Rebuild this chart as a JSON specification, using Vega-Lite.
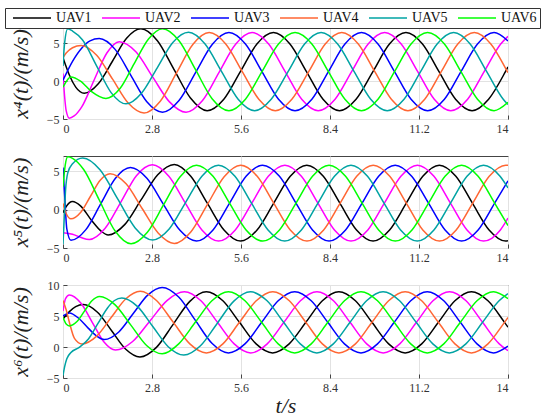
{
  "$schema": "https://vega.github.io/schema/vega-lite/v6.json",
  "description": "x4, x5, x6 states of six UAVs over time",
  "background": "white",
  "padding": {"left": 4, "top": 7, "right": 0, "bottom": 0},
  "datasets": {
    "a": [
      {"s":"UAV1","t":0,"v":3.1},{"s":"UAV1","t":0.1,"v":1.9},{"s":"UAV1","t":0.2,"v":0.8},{"s":"UAV1","t":0.4,"v":-0.8},{"s":"UAV1","t":0.67,"v":-1.6},{"s":"UAV1","t":1.11,"v":-0.35},{"s":"UAV1","t":1.56,"v":2.65},{"s":"UAV1","t":2.0,"v":5.65},{"s":"UAV1","t":2.45,"v":6.9},{"s":"UAV1","t":2.97,"v":5.33},{"s":"UAV1","t":3.49,"v":1.55},{"s":"UAV1","t":4.01,"v":-2.23},{"s":"UAV1","t":4.535,"v":-3.9},{"s":"UAV1","t":5.06,"v":-2.39},{"s":"UAV1","t":5.58,"v":1.25},{"s":"UAV1","t":6.1,"v":4.89},{"s":"UAV1","t":6.62,"v":6.4},{"s":"UAV1","t":7.14,"v":4.89},{"s":"UAV1","t":7.66,"v":1.25},{"s":"UAV1","t":8.18,"v":-2.39},{"s":"UAV1","t":8.7,"v":-3.9},{"s":"UAV1","t":9.22,"v":-2.39},{"s":"UAV1","t":9.75,"v":1.25},{"s":"UAV1","t":10.27,"v":4.89},{"s":"UAV1","t":10.79,"v":6.4},{"s":"UAV1","t":11.31,"v":4.89},{"s":"UAV1","t":11.83,"v":1.25},{"s":"UAV1","t":12.35,"v":-2.39},{"s":"UAV1","t":12.87,"v":-3.9},{"s":"UAV1","t":13.39,"v":-2.39},{"s":"UAV1","t":13.92,"v":1.25},{"s":"UAV1","t":14,"v":1.87},
      {"s":"UAV2","t":0,"v":1.0},{"s":"UAV2","t":0.05,"v":-2.0},{"s":"UAV2","t":0.1,"v":-3.9},{"s":"UAV2","t":0.2,"v":-4.9},{"s":"UAV2","t":0.35,"v":-4.6},{"s":"UAV2","t":0.59,"v":-3.4},{"s":"UAV2","t":0.98,"v":0.15},{"s":"UAV2","t":1.38,"v":3.7},{"s":"UAV2","t":1.77,"v":5.2},{"s":"UAV2","t":2.3,"v":3.84},{"s":"UAV2","t":2.82,"v":0.55},{"s":"UAV2","t":3.35,"v":-2.74},{"s":"UAV2","t":3.87,"v":-4.1},{"s":"UAV2","t":4.39,"v":-2.56},{"s":"UAV2","t":4.91,"v":1.15},{"s":"UAV2","t":5.43,"v":4.86},{"s":"UAV2","t":5.95,"v":6.4},{"s":"UAV2","t":6.47,"v":4.89},{"s":"UAV2","t":6.99,"v":1.25},{"s":"UAV2","t":7.51,"v":-2.39},{"s":"UAV2","t":8.03,"v":-3.9},{"s":"UAV2","t":8.56,"v":-2.39},{"s":"UAV2","t":9.08,"v":1.25},{"s":"UAV2","t":9.6,"v":4.89},{"s":"UAV2","t":10.12,"v":6.4},{"s":"UAV2","t":10.64,"v":4.89},{"s":"UAV2","t":11.16,"v":1.25},{"s":"UAV2","t":11.68,"v":-2.39},{"s":"UAV2","t":12.2,"v":-3.9},{"s":"UAV2","t":12.73,"v":-2.39},{"s":"UAV2","t":13.25,"v":1.25},{"s":"UAV2","t":13.77,"v":4.89},{"s":"UAV2","t":14,"v":5.9},
      {"s":"UAV3","t":0,"v":0.1},{"s":"UAV3","t":0.3,"v":2.6},{"s":"UAV3","t":0.6,"v":4.4},{"s":"UAV3","t":0.85,"v":5.3},{"s":"UAV3","t":1.14,"v":5.6},{"s":"UAV3","t":1.64,"v":4.18},{"s":"UAV3","t":2.135,"v":0.75},{"s":"UAV3","t":2.63,"v":-2.68},{"s":"UAV3","t":3.13,"v":-4.1},{"s":"UAV3","t":3.65,"v":-2.56},{"s":"UAV3","t":4.175,"v":1.15},{"s":"UAV3","t":4.7,"v":4.86},{"s":"UAV3","t":5.22,"v":6.4},{"s":"UAV3","t":5.74,"v":4.89},{"s":"UAV3","t":6.26,"v":1.25},{"s":"UAV3","t":6.78,"v":-2.39},{"s":"UAV3","t":7.3,"v":-3.9},{"s":"UAV3","t":7.83,"v":-2.39},{"s":"UAV3","t":8.35,"v":1.25},{"s":"UAV3","t":8.87,"v":4.89},{"s":"UAV3","t":9.39,"v":6.4},{"s":"UAV3","t":9.91,"v":4.89},{"s":"UAV3","t":10.43,"v":1.25},{"s":"UAV3","t":10.95,"v":-2.39},{"s":"UAV3","t":11.47,"v":-3.9},{"s":"UAV3","t":12.0,"v":-2.39},{"s":"UAV3","t":12.52,"v":1.25},{"s":"UAV3","t":13.04,"v":4.89},{"s":"UAV3","t":13.56,"v":6.4},{"s":"UAV3","t":14,"v":5.3},
      {"s":"UAV4","t":0,"v":3.1},{"s":"UAV4","t":0.1,"v":3.7},{"s":"UAV4","t":0.3,"v":4.4},{"s":"UAV4","t":0.57,"v":4.7},{"s":"UAV4","t":1.06,"v":3.4},{"s":"UAV4","t":1.56,"v":0.25},{"s":"UAV4","t":2.05,"v":-2.9},{"s":"UAV4","t":2.55,"v":-4.2},{"s":"UAV4","t":3.06,"v":-2.65},{"s":"UAV4","t":3.575,"v":1.1},{"s":"UAV4","t":4.09,"v":4.85},{"s":"UAV4","t":4.6,"v":6.4},{"s":"UAV4","t":5.12,"v":4.89},{"s":"UAV4","t":5.64,"v":1.25},{"s":"UAV4","t":6.16,"v":-2.39},{"s":"UAV4","t":6.68,"v":-3.9},{"s":"UAV4","t":7.2,"v":-2.39},{"s":"UAV4","t":7.73,"v":1.25},{"s":"UAV4","t":8.25,"v":4.89},{"s":"UAV4","t":8.77,"v":6.4},{"s":"UAV4","t":9.29,"v":4.89},{"s":"UAV4","t":9.81,"v":1.25},{"s":"UAV4","t":10.33,"v":-2.39},{"s":"UAV4","t":10.85,"v":-3.9},{"s":"UAV4","t":11.38,"v":-2.39},{"s":"UAV4","t":11.9,"v":1.25},{"s":"UAV4","t":12.42,"v":4.89},{"s":"UAV4","t":12.94,"v":6.4},{"s":"UAV4","t":13.46,"v":4.89},{"s":"UAV4","t":13.98,"v":1.25},{"s":"UAV4","t":14,"v":1.1},
      {"s":"UAV5","t":0,"v":2.0},{"s":"UAV5","t":0.05,"v":5.0},{"s":"UAV5","t":0.15,"v":6.9},{"s":"UAV5","t":0.3,"v":6.6},{"s":"UAV5","t":0.61,"v":5.45},{"s":"UAV5","t":1.065,"v":1.95},{"s":"UAV5","t":1.52,"v":-1.55},{"s":"UAV5","t":1.98,"v":-3.0},{"s":"UAV5","t":2.47,"v":-1.6},{"s":"UAV5","t":2.965,"v":1.75},{"s":"UAV5","t":3.455,"v":5.1},{"s":"UAV5","t":3.95,"v":6.45},{"s":"UAV5","t":4.47,"v":4.89},{"s":"UAV5","t":4.99,"v":1.25},{"s":"UAV5","t":5.51,"v":-2.39},{"s":"UAV5","t":6.03,"v":-3.9},{"s":"UAV5","t":6.55,"v":-2.39},{"s":"UAV5","t":7.08,"v":1.25},{"s":"UAV5","t":7.6,"v":4.89},{"s":"UAV5","t":8.12,"v":6.4},{"s":"UAV5","t":8.64,"v":4.89},{"s":"UAV5","t":9.16,"v":1.25},{"s":"UAV5","t":9.68,"v":-2.39},{"s":"UAV5","t":10.2,"v":-3.9},{"s":"UAV5","t":10.73,"v":-2.39},{"s":"UAV5","t":11.25,"v":1.25},{"s":"UAV5","t":11.77,"v":4.89},{"s":"UAV5","t":12.29,"v":6.4},{"s":"UAV5","t":12.81,"v":4.89},{"s":"UAV5","t":13.33,"v":1.25},{"s":"UAV5","t":13.85,"v":-2.39},{"s":"UAV5","t":14,"v":-3.1},
      {"s":"UAV6","t":0,"v":-0.8},{"s":"UAV6","t":0.25,"v":0.55},{"s":"UAV6","t":0.55,"v":0.0},{"s":"UAV6","t":0.9,"v":-1.4},{"s":"UAV6","t":1.35,"v":-2.3},{"s":"UAV6","t":1.8,"v":-0.95},{"s":"UAV6","t":2.24,"v":2.3},{"s":"UAV6","t":2.69,"v":5.55},{"s":"UAV6","t":3.13,"v":6.9},{"s":"UAV6","t":3.65,"v":5.32},{"s":"UAV6","t":4.17,"v":1.5},{"s":"UAV6","t":4.69,"v":-2.32},{"s":"UAV6","t":5.22,"v":-3.9},{"s":"UAV6","t":5.74,"v":-2.39},{"s":"UAV6","t":6.26,"v":1.25},{"s":"UAV6","t":6.78,"v":4.89},{"s":"UAV6","t":7.3,"v":6.4},{"s":"UAV6","t":7.83,"v":4.89},{"s":"UAV6","t":8.35,"v":1.25},{"s":"UAV6","t":8.87,"v":-2.39},{"s":"UAV6","t":9.39,"v":-3.9},{"s":"UAV6","t":9.91,"v":-2.39},{"s":"UAV6","t":10.43,"v":1.25},{"s":"UAV6","t":10.95,"v":4.89},{"s":"UAV6","t":11.47,"v":6.4},{"s":"UAV6","t":12.0,"v":4.89},{"s":"UAV6","t":12.52,"v":1.25},{"s":"UAV6","t":13.04,"v":-2.39},{"s":"UAV6","t":13.56,"v":-3.9},{"s":"UAV6","t":14,"v":-2.8}
    ],
    "b": [
      {"s":"UAV1","t":0,"v":-0.4},{"s":"UAV1","t":0.1,"v":0.4},{"s":"UAV1","t":0.3,"v":1.07},{"s":"UAV1","t":0.55,"v":0.5},{"s":"UAV1","t":0.9,"v":-1.4},{"s":"UAV1","t":1.2,"v":-2.8},{"s":"UAV1","t":1.42,"v":-3.3},{"s":"UAV1","t":1.94,"v":-1.95},{"s":"UAV1","t":2.46,"v":1.3},{"s":"UAV1","t":2.98,"v":4.55},{"s":"UAV1","t":3.5,"v":5.9},{"s":"UAV1","t":4.02,"v":4.35},{"s":"UAV1","t":4.54,"v":0.85},{"s":"UAV1","t":5.065,"v":-2.65},{"s":"UAV1","t":5.585,"v":-4.1},{"s":"UAV1","t":6.105,"v":-2.65},{"s":"UAV1","t":6.63,"v":0.85},{"s":"UAV1","t":7.15,"v":4.35},{"s":"UAV1","t":7.67,"v":5.8},{"s":"UAV1","t":8.19,"v":4.35},{"s":"UAV1","t":8.71,"v":0.85},{"s":"UAV1","t":9.235,"v":-2.65},{"s":"UAV1","t":9.755,"v":-4.1},{"s":"UAV1","t":10.275,"v":-2.65},{"s":"UAV1","t":10.8,"v":0.85},{"s":"UAV1","t":11.32,"v":4.35},{"s":"UAV1","t":11.84,"v":5.8},{"s":"UAV1","t":12.36,"v":4.35},{"s":"UAV1","t":12.88,"v":0.85},{"s":"UAV1","t":13.405,"v":-2.65},{"s":"UAV1","t":13.925,"v":-4.1},{"s":"UAV1","t":14,"v":-4.05},
      {"s":"UAV2","t":0,"v":-3.0},{"s":"UAV2","t":0.3,"v":-3.2},{"s":"UAV2","t":0.55,"v":-3.6},{"s":"UAV2","t":0.83,"v":-3.9},{"s":"UAV2","t":1.32,"v":-2.47},{"s":"UAV2","t":1.82,"v":0.98},{"s":"UAV2","t":2.31,"v":4.43},{"s":"UAV2","t":2.81,"v":5.85},{"s":"UAV2","t":3.33,"v":4.35},{"s":"UAV2","t":3.85,"v":0.85},{"s":"UAV2","t":4.37,"v":-2.65},{"s":"UAV2","t":4.895,"v":-4.1},{"s":"UAV2","t":5.42,"v":-2.65},{"s":"UAV2","t":5.94,"v":0.85},{"s":"UAV2","t":6.46,"v":4.35},{"s":"UAV2","t":6.98,"v":5.8},{"s":"UAV2","t":7.5,"v":4.35},{"s":"UAV2","t":8.02,"v":0.85},{"s":"UAV2","t":8.54,"v":-2.65},{"s":"UAV2","t":9.06,"v":-4.1},{"s":"UAV2","t":9.59,"v":-2.65},{"s":"UAV2","t":10.11,"v":0.85},{"s":"UAV2","t":10.63,"v":4.35},{"s":"UAV2","t":11.15,"v":5.8},{"s":"UAV2","t":11.67,"v":4.35},{"s":"UAV2","t":12.19,"v":0.85},{"s":"UAV2","t":12.71,"v":-2.65},{"s":"UAV2","t":13.23,"v":-4.1},{"s":"UAV2","t":13.76,"v":-2.65},{"s":"UAV2","t":14,"v":-1.1},
      {"s":"UAV3","t":0,"v":5.5},{"s":"UAV3","t":0.05,"v":2.0},{"s":"UAV3","t":0.12,"v":-2.5},{"s":"UAV3","t":0.25,"v":-4.0},{"s":"UAV3","t":0.72,"v":-2.6},{"s":"UAV3","t":1.185,"v":0.75},{"s":"UAV3","t":1.65,"v":4.1},{"s":"UAV3","t":2.12,"v":5.5},{"s":"UAV3","t":2.64,"v":4.1},{"s":"UAV3","t":3.16,"v":0.7},{"s":"UAV3","t":3.68,"v":-2.7},{"s":"UAV3","t":4.2,"v":-4.1},{"s":"UAV3","t":4.72,"v":-2.65},{"s":"UAV3","t":5.24,"v":0.85},{"s":"UAV3","t":5.76,"v":4.35},{"s":"UAV3","t":6.28,"v":5.8},{"s":"UAV3","t":6.81,"v":4.35},{"s":"UAV3","t":7.33,"v":0.85},{"s":"UAV3","t":7.85,"v":-2.65},{"s":"UAV3","t":8.37,"v":-4.1},{"s":"UAV3","t":8.89,"v":-2.65},{"s":"UAV3","t":9.41,"v":0.85},{"s":"UAV3","t":9.93,"v":4.35},{"s":"UAV3","t":10.45,"v":5.8},{"s":"UAV3","t":10.97,"v":4.35},{"s":"UAV3","t":11.5,"v":0.85},{"s":"UAV3","t":12.02,"v":-2.65},{"s":"UAV3","t":12.54,"v":-4.1},{"s":"UAV3","t":13.06,"v":-2.65},{"s":"UAV3","t":13.58,"v":0.85},{"s":"UAV3","t":14,"v":3.77},
      {"s":"UAV4","t":0,"v":0.8},{"s":"UAV4","t":0.1,"v":-0.5},{"s":"UAV4","t":0.25,"v":-1.2},{"s":"UAV4","t":0.56,"v":-0.34},{"s":"UAV4","t":0.865,"v":1.75},{"s":"UAV4","t":1.17,"v":3.84},{"s":"UAV4","t":1.48,"v":4.7},{"s":"UAV4","t":1.985,"v":3.37},{"s":"UAV4","t":2.49,"v":0.15},{"s":"UAV4","t":3.0,"v":-3.07},{"s":"UAV4","t":3.5,"v":-4.4},{"s":"UAV4","t":4.02,"v":-2.9},{"s":"UAV4","t":4.545,"v":0.7},{"s":"UAV4","t":5.07,"v":4.3},{"s":"UAV4","t":5.59,"v":5.8},{"s":"UAV4","t":6.11,"v":4.35},{"s":"UAV4","t":6.63,"v":0.85},{"s":"UAV4","t":7.15,"v":-2.65},{"s":"UAV4","t":7.675,"v":-4.1},{"s":"UAV4","t":8.2,"v":-2.65},{"s":"UAV4","t":8.72,"v":0.85},{"s":"UAV4","t":9.24,"v":4.35},{"s":"UAV4","t":9.76,"v":5.8},{"s":"UAV4","t":10.28,"v":4.35},{"s":"UAV4","t":10.8,"v":0.85},{"s":"UAV4","t":11.32,"v":-2.65},{"s":"UAV4","t":11.845,"v":-4.1},{"s":"UAV4","t":12.37,"v":-2.65},{"s":"UAV4","t":12.89,"v":0.85},{"s":"UAV4","t":13.41,"v":4.35},{"s":"UAV4","t":13.93,"v":5.8},{"s":"UAV4","t":14,"v":5.78},
      {"s":"UAV5","t":0,"v":-4.5},{"s":"UAV5","t":0.04,"v":-1.0},{"s":"UAV5","t":0.08,"v":2.5},{"s":"UAV5","t":0.15,"v":4.8},{"s":"UAV5","t":0.3,"v":6.0},{"s":"UAV5","t":0.62,"v":6.75},{"s":"UAV5","t":1.17,"v":5.18},{"s":"UAV5","t":1.72,"v":1.4},{"s":"UAV5","t":2.27,"v":-2.38},{"s":"UAV5","t":2.82,"v":-3.95},{"s":"UAV5","t":3.34,"v":-2.52},{"s":"UAV5","t":3.855,"v":0.925},{"s":"UAV5","t":4.37,"v":4.37},{"s":"UAV5","t":4.89,"v":5.8},{"s":"UAV5","t":5.41,"v":4.35},{"s":"UAV5","t":5.93,"v":0.85},{"s":"UAV5","t":6.45,"v":-2.65},{"s":"UAV5","t":6.975,"v":-4.1},{"s":"UAV5","t":7.5,"v":-2.65},{"s":"UAV5","t":8.02,"v":0.85},{"s":"UAV5","t":8.54,"v":4.35},{"s":"UAV5","t":9.06,"v":5.8},{"s":"UAV5","t":9.58,"v":4.35},{"s":"UAV5","t":10.1,"v":0.85},{"s":"UAV5","t":10.62,"v":-2.65},{"s":"UAV5","t":11.145,"v":-4.1},{"s":"UAV5","t":11.67,"v":-2.65},{"s":"UAV5","t":12.19,"v":0.85},{"s":"UAV5","t":12.71,"v":4.35},{"s":"UAV5","t":13.23,"v":5.8},{"s":"UAV5","t":13.75,"v":4.35},{"s":"UAV5","t":14,"v":2.83},
      {"s":"UAV6","t":0,"v":3.0},{"s":"UAV6","t":0.07,"v":5.8},{"s":"UAV6","t":0.15,"v":6.9},{"s":"UAV6","t":0.3,"v":6.7},{"s":"UAV6","t":0.65,"v":5.24},{"s":"UAV6","t":1.145,"v":1.225},{"s":"UAV6","t":1.64,"v":-2.79},{"s":"UAV6","t":2.14,"v":-4.45},{"s":"UAV6","t":2.655,"v":-2.95},{"s":"UAV6","t":3.17,"v":0.675},{"s":"UAV6","t":3.685,"v":4.3},{"s":"UAV6","t":4.2,"v":5.8},{"s":"UAV6","t":4.72,"v":4.35},{"s":"UAV6","t":5.24,"v":0.85},{"s":"UAV6","t":5.76,"v":-2.65},{"s":"UAV6","t":6.285,"v":-4.1},{"s":"UAV6","t":6.81,"v":-2.65},{"s":"UAV6","t":7.33,"v":0.85},{"s":"UAV6","t":7.85,"v":4.35},{"s":"UAV6","t":8.37,"v":5.8},{"s":"UAV6","t":8.89,"v":4.35},{"s":"UAV6","t":9.41,"v":0.85},{"s":"UAV6","t":9.93,"v":-2.65},{"s":"UAV6","t":10.455,"v":-4.1},{"s":"UAV6","t":10.98,"v":-2.65},{"s":"UAV6","t":11.5,"v":0.85},{"s":"UAV6","t":12.02,"v":4.35},{"s":"UAV6","t":12.54,"v":5.8},{"s":"UAV6","t":13.06,"v":4.35},{"s":"UAV6","t":13.58,"v":0.85},{"s":"UAV6","t":14,"v":-2.07}
    ],
    "c": [
      {"s":"UAV1","t":0,"v":4.5},{"s":"UAV1","t":0.2,"v":5.7},{"s":"UAV1","t":0.4,"v":6.5},{"s":"UAV1","t":0.64,"v":6.85},{"s":"UAV1","t":1.085,"v":5.61},{"s":"UAV1","t":1.53,"v":2.63},{"s":"UAV1","t":1.975,"v":-0.36},{"s":"UAV1","t":2.42,"v":-1.6},{"s":"UAV1","t":2.94,"v":-0.06},{"s":"UAV1","t":3.465,"v":3.65},{"s":"UAV1","t":3.99,"v":7.36},{"s":"UAV1","t":4.51,"v":8.9},{"s":"UAV1","t":5.03,"v":7.45},{"s":"UAV1","t":5.55,"v":3.98},{"s":"UAV1","t":6.075,"v":0.5},{"s":"UAV1","t":6.595,"v":-0.95},{"s":"UAV1","t":7.115,"v":0.5},{"s":"UAV1","t":7.64,"v":3.98},{"s":"UAV1","t":8.16,"v":7.45},{"s":"UAV1","t":8.68,"v":8.9},{"s":"UAV1","t":9.2,"v":7.45},{"s":"UAV1","t":9.72,"v":3.98},{"s":"UAV1","t":10.245,"v":0.5},{"s":"UAV1","t":10.765,"v":-0.95},{"s":"UAV1","t":11.285,"v":0.5},{"s":"UAV1","t":11.81,"v":3.98},{"s":"UAV1","t":12.33,"v":7.45},{"s":"UAV1","t":12.85,"v":8.9},{"s":"UAV1","t":13.37,"v":7.45},{"s":"UAV1","t":13.89,"v":3.98},{"s":"UAV1","t":14,"v":3.2},
      {"s":"UAV2","t":0,"v":5.8},{"s":"UAV2","t":0.08,"v":7.8},{"s":"UAV2","t":0.2,"v":8.4},{"s":"UAV2","t":0.56,"v":7.1},{"s":"UAV2","t":0.925,"v":3.95},{"s":"UAV2","t":1.29,"v":0.8},{"s":"UAV2","t":1.65,"v":-0.5},{"s":"UAV2","t":2.19,"v":0.88},{"s":"UAV2","t":2.735,"v":4.2},{"s":"UAV2","t":3.28,"v":7.52},{"s":"UAV2","t":3.82,"v":8.9},{"s":"UAV2","t":4.34,"v":7.45},{"s":"UAV2","t":4.86,"v":3.98},{"s":"UAV2","t":5.385,"v":0.5},{"s":"UAV2","t":5.905,"v":-0.95},{"s":"UAV2","t":6.425,"v":0.5},{"s":"UAV2","t":6.95,"v":3.98},{"s":"UAV2","t":7.47,"v":7.45},{"s":"UAV2","t":7.99,"v":8.9},{"s":"UAV2","t":8.51,"v":7.45},{"s":"UAV2","t":9.03,"v":3.98},{"s":"UAV2","t":9.555,"v":0.5},{"s":"UAV2","t":10.075,"v":-0.95},{"s":"UAV2","t":10.595,"v":0.5},{"s":"UAV2","t":11.12,"v":3.98},{"s":"UAV2","t":11.64,"v":7.45},{"s":"UAV2","t":12.16,"v":8.9},{"s":"UAV2","t":12.68,"v":7.45},{"s":"UAV2","t":13.2,"v":3.98},{"s":"UAV2","t":13.725,"v":0.5},{"s":"UAV2","t":14,"v":-0.6},
      {"s":"UAV3","t":0,"v":5.0},{"s":"UAV3","t":0.2,"v":5.5},{"s":"UAV3","t":0.5,"v":4.6},{"s":"UAV3","t":0.8,"v":3.0},{"s":"UAV3","t":1.05,"v":1.8},{"s":"UAV3","t":1.3,"v":1.2},{"s":"UAV3","t":1.755,"v":2.43},{"s":"UAV3","t":2.21,"v":5.4},{"s":"UAV3","t":2.665,"v":8.37},{"s":"UAV3","t":3.12,"v":9.6},{"s":"UAV3","t":3.64,"v":8.05},{"s":"UAV3","t":4.16,"v":4.33},{"s":"UAV3","t":4.685,"v":0.6},{"s":"UAV3","t":5.205,"v":-0.95},{"s":"UAV3","t":5.725,"v":0.5},{"s":"UAV3","t":6.25,"v":3.98},{"s":"UAV3","t":6.77,"v":7.45},{"s":"UAV3","t":7.29,"v":8.9},{"s":"UAV3","t":7.81,"v":7.45},{"s":"UAV3","t":8.33,"v":3.98},{"s":"UAV3","t":8.855,"v":0.5},{"s":"UAV3","t":9.375,"v":-0.95},{"s":"UAV3","t":9.895,"v":0.5},{"s":"UAV3","t":10.42,"v":3.98},{"s":"UAV3","t":10.94,"v":7.45},{"s":"UAV3","t":11.46,"v":8.9},{"s":"UAV3","t":11.98,"v":7.45},{"s":"UAV3","t":12.5,"v":3.98},{"s":"UAV3","t":13.025,"v":0.5},{"s":"UAV3","t":13.545,"v":-0.95},{"s":"UAV3","t":14,"v":0.13},
      {"s":"UAV4","t":0,"v":7.5},{"s":"UAV4","t":0.1,"v":6.0},{"s":"UAV4","t":0.2,"v":4.0},{"s":"UAV4","t":0.36,"v":1.4},{"s":"UAV4","t":0.6,"v":0.5},{"s":"UAV4","t":1.06,"v":1.75},{"s":"UAV4","t":1.515,"v":4.75},{"s":"UAV4","t":1.97,"v":7.75},{"s":"UAV4","t":2.43,"v":9.0},{"s":"UAV4","t":2.95,"v":7.45},{"s":"UAV4","t":3.47,"v":3.98},{"s":"UAV4","t":3.99,"v":0.5},{"s":"UAV4","t":4.51,"v":-0.95},{"s":"UAV4","t":5.03,"v":0.5},{"s":"UAV4","t":5.55,"v":3.98},{"s":"UAV4","t":6.08,"v":7.45},{"s":"UAV4","t":6.6,"v":8.9},{"s":"UAV4","t":7.12,"v":7.45},{"s":"UAV4","t":7.64,"v":3.98},{"s":"UAV4","t":8.16,"v":0.5},{"s":"UAV4","t":8.68,"v":-0.95},{"s":"UAV4","t":9.2,"v":0.5},{"s":"UAV4","t":9.72,"v":3.98},{"s":"UAV4","t":10.245,"v":7.45},{"s":"UAV4","t":10.765,"v":8.9},{"s":"UAV4","t":11.285,"v":7.45},{"s":"UAV4","t":11.81,"v":3.98},{"s":"UAV4","t":12.33,"v":0.5},{"s":"UAV4","t":12.85,"v":-0.95},{"s":"UAV4","t":13.37,"v":0.5},{"s":"UAV4","t":13.89,"v":3.98},{"s":"UAV4","t":14,"v":4.75},
      {"s":"UAV5","t":0,"v":-4.6},{"s":"UAV5","t":0.05,"v":-3.2},{"s":"UAV5","t":0.12,"v":-1.9},{"s":"UAV5","t":0.25,"v":-0.9},{"s":"UAV5","t":0.5,"v":-0.1},{"s":"UAV5","t":0.8,"v":1.3},{"s":"UAV5","t":1.1,"v":3.8},{"s":"UAV5","t":1.4,"v":6.3},{"s":"UAV5","t":1.62,"v":7.5},{"s":"UAV5","t":1.85,"v":7.9},{"s":"UAV5","t":2.34,"v":6.55},{"s":"UAV5","t":2.825,"v":3.3},{"s":"UAV5","t":3.31,"v":0.05},{"s":"UAV5","t":3.8,"v":-1.3},{"s":"UAV5","t":4.325,"v":0.2},{"s":"UAV5","t":4.85,"v":3.8},{"s":"UAV5","t":5.375,"v":7.4},{"s":"UAV5","t":5.9,"v":8.9},{"s":"UAV5","t":6.42,"v":7.45},{"s":"UAV5","t":6.94,"v":3.98},{"s":"UAV5","t":7.465,"v":0.5},{"s":"UAV5","t":7.985,"v":-0.95},{"s":"UAV5","t":8.505,"v":0.5},{"s":"UAV5","t":9.03,"v":3.98},{"s":"UAV5","t":9.55,"v":7.45},{"s":"UAV5","t":10.07,"v":8.9},{"s":"UAV5","t":10.59,"v":7.45},{"s":"UAV5","t":11.11,"v":3.98},{"s":"UAV5","t":11.635,"v":0.5},{"s":"UAV5","t":12.155,"v":-0.95},{"s":"UAV5","t":12.675,"v":0.5},{"s":"UAV5","t":13.2,"v":3.98},{"s":"UAV5","t":13.72,"v":7.45},{"s":"UAV5","t":14,"v":8.6},
      {"s":"UAV6","t":0,"v":4.8},{"s":"UAV6","t":0.1,"v":3.7},{"s":"UAV6","t":0.2,"v":3.4},{"s":"UAV6","t":0.44,"v":4.1},{"s":"UAV6","t":0.675,"v":5.78},{"s":"UAV6","t":0.91,"v":7.45},{"s":"UAV6","t":1.15,"v":8.15},{"s":"UAV6","t":1.64,"v":6.8},{"s":"UAV6","t":2.135,"v":3.53},{"s":"UAV6","t":2.63,"v":0.25},{"s":"UAV6","t":3.12,"v":-1.1},{"s":"UAV6","t":3.64,"v":0.5},{"s":"UAV6","t":4.16,"v":3.98},{"s":"UAV6","t":4.685,"v":7.45},{"s":"UAV6","t":5.205,"v":8.9},{"s":"UAV6","t":5.725,"v":7.45},{"s":"UAV6","t":6.25,"v":3.98},{"s":"UAV6","t":6.77,"v":0.5},{"s":"UAV6","t":7.29,"v":-0.95},{"s":"UAV6","t":7.81,"v":0.5},{"s":"UAV6","t":8.33,"v":3.98},{"s":"UAV6","t":8.855,"v":7.45},{"s":"UAV6","t":9.375,"v":8.9},{"s":"UAV6","t":9.895,"v":7.45},{"s":"UAV6","t":10.42,"v":3.98},{"s":"UAV6","t":10.94,"v":0.5},{"s":"UAV6","t":11.46,"v":-0.95},{"s":"UAV6","t":11.98,"v":0.5},{"s":"UAV6","t":12.5,"v":3.98},{"s":"UAV6","t":13.025,"v":7.45},{"s":"UAV6","t":13.545,"v":8.9},{"s":"UAV6","t":14,"v":7.8}
    ]
  },
  "bounds": "flush",
  "spacing": 37,
  "vconcat": [
    {
      "width": 445,
      "height": 91,
      "data": {"name": "a"},
      "mark": {"type": "line", "interpolate": "monotone", "strokeWidth": 1.5, "clip": true},
      "encoding": {
        "x": {"field": "t", "type": "quantitative", "scale": {"domain": [0, 14], "nice": false, "zero": false},
              "axis": {"values": [0, 2.8, 5.6, 8.4, 11.2, 14], "labelExpr": "format(datum.value, '~g')", "title": null}},
        "y": {"field": "v", "type": "quantitative", "scale": {"domain": [-5, 7], "nice": false},
              "axis": {"values": [-5, 0, 5], "title": "x⁴(t)/(m/s)"}},
        "color": {"field": "s", "type": "nominal",
                  "scale": {"domain": ["UAV1", "UAV2", "UAV3", "UAV4", "UAV5", "UAV6"],
                            "range": ["#000000", "#ff00ff", "#0000ff", "#ff6633", "#00a3a3", "#00ff00"]},
                  "legend": {"orient": "none", "legendX": -58, "legendY": -20, "direction": "horizontal", "columns": 6,
                             "title": null, "symbolType": "M-0.4,0H7.2", "symbolSize": 100, "symbolStrokeWidth": 1.5,
                             "labelFont": "Liberation Serif, DejaVu Serif, serif", "labelFontSize": 14, "labelColor": "#111",
                             "labelOffset": 34, "columnPadding": 5, "strokeColor": "#333", "fillColor": "white", "padding": 3}}
      }
    },
    {
      "width": 445,
      "height": 92,
      "data": {"name": "b"},
      "mark": {"type": "line", "interpolate": "monotone", "strokeWidth": 1.5, "clip": true},
      "encoding": {
        "x": {"field": "t", "type": "quantitative", "scale": {"domain": [0, 14], "nice": false, "zero": false},
              "axis": {"values": [0, 2.8, 5.6, 8.4, 11.2, 14], "labelExpr": "format(datum.value, '~g')", "title": null}},
        "y": {"field": "v", "type": "quantitative", "scale": {"domain": [-5, 7], "nice": false},
              "axis": {"values": [-5, 0, 5], "title": "x⁵(t)/(m/s)"}},
        "color": {"field": "s", "type": "nominal"}
      }
    },
    {
      "width": 445,
      "height": 93,
      "data": {"name": "c"},
      "mark": {"type": "line", "interpolate": "monotone", "strokeWidth": 1.5, "clip": true},
      "encoding": {
        "x": {"field": "t", "type": "quantitative", "scale": {"domain": [0, 14], "nice": false, "zero": false},
              "axis": {"values": [0, 2.8, 5.6, 8.4, 11.2, 14], "labelExpr": "format(datum.value, '~g')", "title": "t/s", "titleFontSize": 22, "titlePadding": 2}},
        "y": {"field": "v", "type": "quantitative", "scale": {"domain": [-5, 10], "nice": false},
              "axis": {"values": [-5, 0, 5, 10], "title": "x⁶(t)/(m/s)"}},
        "color": {"field": "s", "type": "nominal"}
      }
    }
  ],
  "config": {
    "view": {"stroke": "#444", "strokeWidth": 1},
    "axis": {"labelFont": "Liberation Serif, DejaVu Serif, serif", "labelFontSize": 12, "labelColor": "#333", "grid": true,
             "gridColor": "#e2e2e2", "domain": false, "ticks": true, "tickSize": -4, "tickColor": "#444", "labelPadding": 8,
             "titleFont": "Liberation Serif, DejaVu Serif, serif", "titleFontWeight": "normal", "titleFontStyle": "italic",
             "titleFontSize": 22, "titleColor": "#222", "titlePadding": 14}
  }
}
